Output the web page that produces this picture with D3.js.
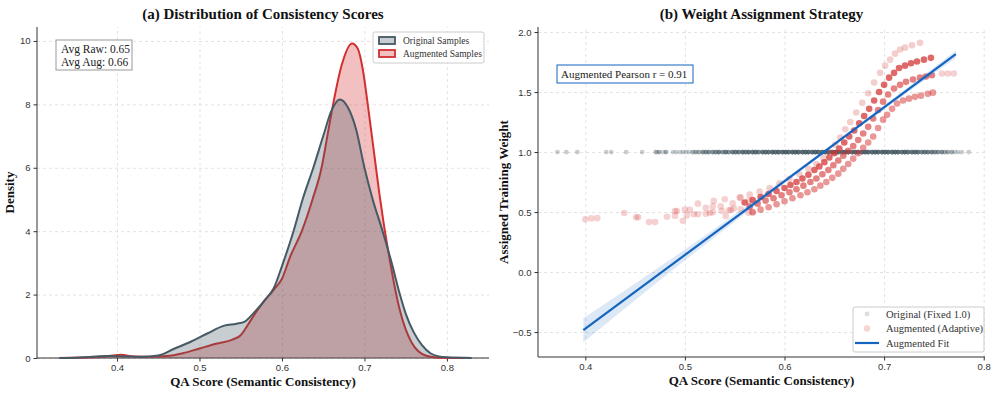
<!DOCTYPE html>
<html>
<head>
<meta charset="utf-8">
<script src="https://cdn.jsdelivr.net/npm/d3@7"></script>
<style>
  body { margin: 0; background: #fff; }
  svg { font-family: "Liberation Serif", "Times New Roman", serif; }
  .grid line { stroke: #dcdcdc; stroke-dasharray: 3,3; stroke-width: 0.8; }
  .grid .domain { display: none; }
  .axis text { font-size: 9.5px; fill: #333; }
  .axis line, .axis path { stroke: #333; }
</style>
</head>
<body>
<div id="chart"></div>
<script>
// ---- panel (a): density curves, [score, density]
const kdeOriginal = [
  [0.33, 0], [0.35, 0.01], [0.37, 0.04], [0.39, 0.06], [0.41, 0.05], [0.43, 0.04],
  [0.45, 0.08], [0.47, 0.3], [0.49, 0.52], [0.51, 0.78], [0.53, 1.02], [0.545, 1.08],
  [0.555, 1.15], [0.565, 1.4], [0.58, 1.85], [0.59, 2.2], [0.60, 2.9], [0.614, 4.0],
  [0.625, 5.0], [0.638, 6.0], [0.65, 7.0], [0.66, 7.8], [0.67, 8.15], [0.68, 7.9],
  [0.69, 7.2], [0.70, 6.0], [0.71, 5.0], [0.722, 4.0], [0.733, 3.0], [0.743, 2.0],
  [0.75, 1.4], [0.76, 0.8], [0.77, 0.4], [0.78, 0.15], [0.79, 0.05], [0.80, 0.02], [0.83, 0]
];
const kdeAugmented = [
  [0.33, 0], [0.37, 0.02], [0.39, 0.06], [0.405, 0.1], [0.42, 0.05], [0.44, 0.04],
  [0.46, 0.06], [0.48, 0.15], [0.50, 0.3], [0.52, 0.45], [0.54, 0.58], [0.55, 0.72],
  [0.56, 1.1], [0.57, 1.5], [0.58, 1.85], [0.59, 2.15], [0.60, 2.5], [0.61, 3.2],
  [0.624, 4.0], [0.637, 5.0], [0.648, 6.0], [0.655, 7.0], [0.662, 8.0], [0.672, 9.2],
  [0.685, 9.92], [0.692, 9.75], [0.698, 9.1], [0.703, 8.2], [0.708, 7.2], [0.713, 6.2],
  [0.718, 5.2], [0.723, 4.3], [0.730, 3.2], [0.737, 2.2], [0.744, 1.4], [0.750, 0.9],
  [0.757, 0.5], [0.765, 0.22], [0.775, 0.07], [0.79, 0.01], [0.82, 0]
];
const avgRaw = 0.65;
const avgAug = 0.66;

// ---- panel (b): original samples, all weight 1.0 -> [score, how many overlap]
const originalScores = [
  [0.372, 1], [0.381, 1], [0.392, 1], [0.421, 1], [0.426, 1], [0.441, 1], [0.457, 1],
  [0.471, 2], [0.474, 2], [0.478, 1], [0.481, 2], [0.488, 1], [0.491, 1], [0.495, 1],
  [0.498, 1], [0.501, 1], [0.504, 1], [0.508, 2], [0.511, 2], [0.514, 2], [0.518, 3],
  [0.521, 3], [0.524, 3], [0.528, 3], [0.531, 3], [0.534, 4], [0.538, 3], [0.541, 4],
  [0.544, 3], [0.548, 4], [0.551, 4], [0.554, 4], [0.558, 5], [0.561, 4], [0.564, 5],
  [0.568, 5], [0.571, 5], [0.574, 4], [0.578, 5], [0.581, 5], [0.584, 5], [0.588, 6],
  [0.591, 5], [0.594, 6], [0.598, 6], [0.601, 6], [0.604, 6], [0.608, 6], [0.611, 6],
  [0.614, 6], [0.618, 6], [0.621, 6], [0.624, 6], [0.628, 6], [0.631, 6], [0.634, 6],
  [0.638, 6], [0.641, 6], [0.644, 6], [0.648, 6], [0.651, 6], [0.654, 6], [0.658, 6],
  [0.661, 6], [0.664, 6], [0.668, 6], [0.671, 6], [0.674, 6], [0.678, 6], [0.681, 6],
  [0.684, 6], [0.688, 6], [0.691, 6], [0.694, 6], [0.698, 6], [0.701, 6], [0.704, 6],
  [0.708, 6], [0.711, 6], [0.714, 6], [0.718, 5], [0.721, 6], [0.724, 5], [0.728, 5],
  [0.731, 5], [0.734, 5], [0.738, 4], [0.741, 4], [0.744, 4], [0.748, 4], [0.751, 3],
  [0.754, 3], [0.758, 3], [0.761, 2], [0.764, 2], [0.768, 2], [0.771, 1], [0.774, 1],
  [0.778, 1], [0.785, 1]
];
const originalWeight = 1.0;

// augmented samples, [score, weight], grouped by the visible bands
const augBandA = [
  [0.555, 0.62], [0.565, 0.645], [0.575, 0.67], [0.585, 0.70], [0.595, 0.74], [0.605, 0.775],
  [0.615, 0.815], [0.624, 0.86], [0.632, 0.90], [0.639, 0.95], [0.645, 1.00], [0.651, 1.06],
  [0.656, 1.12], [0.661, 1.19], [0.666, 1.25], [0.672, 1.33], [0.678, 1.41], [0.684, 1.49],
  [0.690, 1.58], [0.696, 1.66], [0.701, 1.72], [0.706, 1.77], [0.711, 1.82], [0.716, 1.855],
  [0.721, 1.87], [0.728, 1.89], [0.736, 1.91]
];
const augBandB = [
  [0.560, 0.58], [0.568, 0.60], [0.576, 0.625], [0.584, 0.65], [0.592, 0.675], [0.600, 0.70],
  [0.606, 0.725], [0.612, 0.75], [0.618, 0.78], [0.624, 0.81], [0.630, 0.85], [0.635, 0.88],
  [0.640, 0.915], [0.645, 0.955], [0.650, 0.99], [0.655, 1.03], [0.660, 1.08], [0.665, 1.13],
  [0.670, 1.18], [0.675, 1.24], [0.680, 1.30], [0.685, 1.36], [0.690, 1.43], [0.695, 1.50],
  [0.700, 1.56], [0.705, 1.62], [0.710, 1.66], [0.715, 1.70], [0.721, 1.72], [0.727, 1.74],
  [0.733, 1.755], [0.740, 1.77], [0.747, 1.785]
];
const augBandC = [
  [0.565, 0.545], [0.573, 0.57], [0.581, 0.595], [0.589, 0.615], [0.597, 0.64], [0.605, 0.665],
  [0.612, 0.69], [0.619, 0.72], [0.626, 0.75], [0.632, 0.78], [0.638, 0.815], [0.644, 0.85],
  [0.649, 0.89], [0.654, 0.93], [0.659, 0.97], [0.664, 1.01], [0.669, 1.05], [0.674, 1.10],
  [0.679, 1.155], [0.684, 1.21], [0.689, 1.28], [0.694, 1.35], [0.699, 1.42], [0.704, 1.48],
  [0.710, 1.53], [0.716, 1.56], [0.722, 1.585], [0.729, 1.605], [0.736, 1.62], [0.742, 1.63],
  [0.748, 1.64]
];
const augBandD = [
  [0.568, 0.50], [0.576, 0.52], [0.584, 0.54], [0.592, 0.565], [0.600, 0.59], [0.608, 0.615],
  [0.616, 0.64], [0.623, 0.665], [0.630, 0.69], [0.636, 0.72], [0.642, 0.75], [0.648, 0.785],
  [0.654, 0.82], [0.659, 0.86], [0.664, 0.90], [0.669, 0.945], [0.674, 0.99], [0.679, 1.035],
  [0.684, 1.08], [0.689, 1.13], [0.694, 1.20], [0.699, 1.27], [0.703, 1.31], [0.708, 1.36],
  [0.713, 1.405], [0.719, 1.43], [0.725, 1.445], [0.731, 1.46], [0.737, 1.47], [0.744, 1.485],
  [0.749, 1.495]
];
const augScattered = [
  [0.400, 0.439], [0.406, 0.447], [0.412, 0.449], [0.439, 0.492], [0.451, 0.456], [0.453, 0.456],
  [0.464, 0.416], [0.470, 0.416], [0.482, 0.461], [0.490, 0.509], [0.492, 0.509], [0.490, 0.468],
  [0.498, 0.427], [0.500, 0.520], [0.502, 0.472], [0.505, 0.519], [0.509, 0.482], [0.513, 0.482],
  [0.513, 0.570], [0.521, 0.536], [0.521, 0.486], [0.525, 0.492], [0.528, 0.498], [0.528, 0.547],
  [0.529, 0.593], [0.536, 0.548], [0.537, 0.511], [0.540, 0.606], [0.541, 0.467], [0.544, 0.515],
  [0.546, 0.517], [0.548, 0.572], [0.549, 0.530], [0.556, 0.522], [0.556, 0.622], [0.564, 0.494],
  [0.564, 0.594], [0.568, 0.494], [0.758, 1.655], [0.764, 1.655], [0.770, 1.655]
];

// regression fit of augmented weights and its confidence band half-width
const fitLine = [[0.398, -0.485], [0.772, 1.815]];
const fitBand = [
  [0.398, 0.10], [0.45, 0.07], [0.50, 0.045], [0.55, 0.03], [0.60, 0.018],
  [0.65, 0.014], [0.70, 0.018], [0.772, 0.032]
];
const pearsonR = 0.91;

const xTicks = [0.4, 0.5, 0.6, 0.7, 0.8];
const densityTicks = [0, 2, 4, 6, 8, 10];
const weightTicks = [-0.5, 0, 0.5, 1.0, 1.5, 2.0];

const colGray = "#455a64";
const colRed = "#d32f2f";
const colBlue = "#1565c0";

const svg = d3.select("#chart").append("svg").attr("width", 996).attr("height", 395);

function drawAxes(g, x, y, w, h, yTicks, yFmt) {
  g.append("g").attr("class", "grid")
    .attr("transform", `translate(0,${h})`)
    .call(d3.axisBottom(x).tickValues(xTicks).tickSize(-h).tickFormat(""));
  g.append("g").attr("class", "grid")
    .call(d3.axisLeft(y).tickValues(yTicks).tickSize(-w).tickFormat(""));

  g.append("g").attr("class", "axis")
    .attr("transform", `translate(0,${h})`)
    .call(d3.axisBottom(x).tickValues(xTicks).tickSize(3.5).tickPadding(3).tickFormat(d3.format(".1f")))
    .call(a => a.select(".domain").attr("d", `M0,0H${w}`));
  g.append("g").attr("class", "axis")
    .call(d3.axisLeft(y).tickValues(yTicks).tickSize(3.5).tickPadding(3).tickFormat(yFmt))
    .call(a => a.select(".domain").attr("d", `M0,${h}V0`));
}

function title(text, cx) {
  svg.append("text").attr("x", cx).attr("y", 19).attr("text-anchor", "middle")
    .attr("font-size", 15).attr("font-weight", "bold").attr("fill", "#111").text(text);
}
function axisLabels(g, w, h, xl, yl, yx) {
  g.append("text").attr("x", w / 2).attr("y", h + 28).attr("text-anchor", "middle")
    .attr("font-size", 13).attr("font-weight", "bold").attr("fill", "#111").text(xl);
  g.append("text").attr("transform", `translate(${yx},${h / 2}) rotate(-90)`)
    .attr("text-anchor", "middle").attr("font-size", 13).attr("font-weight", "bold")
    .attr("fill", "#111").text(yl);
}

// ---------------- panel (a)
{
  const m = { left: 37, top: 27 }, w = 452, h = 331;
  const g = svg.append("g").attr("transform", `translate(${m.left},${m.top})`);
  const x = d3.scaleLinear().domain([0.303, 0.851]).range([0, w]);
  const y = d3.scaleLinear().domain([0, 10.44]).range([h, 0]);

  drawAxes(g, x, y, w, h, densityTicks, d3.format("d"));

  const area = d3.area().x(d => x(d[0])).y0(y(0)).y1(d => y(d[1])).curve(d3.curveMonotoneX);
  const line = d3.line().x(d => x(d[0])).y(d => y(d[1])).curve(d3.curveMonotoneX);

  // augmented drawn first, original on top
  [[kdeAugmented, colRed], [kdeOriginal, colGray]].forEach(([data, c]) => {
    g.append("path").datum(data).attr("d", area).attr("fill", c).attr("fill-opacity", 0.3);
    g.append("path").datum(data).attr("d", line).attr("fill", "none")
      .attr("stroke", c).attr("stroke-width", 2);
  });

  // stats box
  const box = g.append("g").attr("transform", "translate(19,13)");
  box.append("rect").attr("width", 76).attr("height", 30).attr("fill", "#fff")
    .attr("stroke", "#999").attr("stroke-width", 1);
  box.append("text").attr("x", 5).attr("y", 12.5).attr("font-size", 11.5).attr("fill", "#222")
    .text(`Avg Raw: ${avgRaw.toFixed(2)}`);
  box.append("text").attr("x", 5).attr("y", 25.5).attr("font-size", 11.5).attr("fill", "#222")
    .text(`Avg Aug: ${avgAug.toFixed(2)}`);

  // legend
  const lg = g.append("g").attr("transform", "translate(336,5)");
  lg.append("rect").attr("width", 111).attr("height", 31).attr("rx", 2).attr("fill", "#fff")
    .attr("fill-opacity", 0.85).attr("stroke", "#ccc");
  [["Original Samples", colGray], ["Augmented Samples", colRed]].forEach(([t, c], i) => {
    const row = lg.append("g").attr("transform", `translate(6,${5 + i * 13})`);
    row.append("rect").attr("width", 16).attr("height", 7).attr("fill", c)
      .attr("fill-opacity", 0.3).attr("stroke", c).attr("stroke-width", 1.8);
    row.append("text").attr("x", 24).attr("y", 7).attr("font-size", 9.5).attr("fill", "#333").text(t);
  });

  title("(a) Distribution of Consistency Scores", m.left + w / 2);
  axisLabels(g, w, h, "QA Score (Semantic Consistency)", "Density", -23);
}

// ---------------- panel (b)
{
  const m = { left: 538, top: 27 }, w = 447, h = 330;
  const g = svg.append("g").attr("transform", `translate(${m.left},${m.top})`);
  const x = d3.scaleLinear().domain([0.3525, 0.8013]).range([0, w]);
  const y = d3.scaleLinear().domain([-0.708, 2.042]).range([h, 0]);

  drawAxes(g, x, y, w, h, weightTicks, d3.format(".1f"));

  // original points: each score drawn as many times as samples overlap
  const origFlat = originalScores.flatMap(([s, n]) => d3.range(n).map(() => s));
  g.append("g").selectAll("circle").data(origFlat).join("circle")
    .attr("cx", d => x(d)).attr("cy", y(originalWeight)).attr("r", 2.4)
    .attr("fill", colGray).attr("fill-opacity", 0.3);

  const bands = [
    [augScattered, 0.22], [augBandA, 0.24], [augBandD, 0.5], [augBandC, 0.6], [augBandB, 0.72]
  ];
  bands.forEach(([data, op]) => {
    g.append("g").selectAll("circle").data(data).join("circle")
      .attr("cx", d => x(d[0])).attr("cy", d => y(d[1])).attr("r", 3.3)
      .attr("fill", colRed).attr("fill-opacity", op);
  });

  // confidence band + fit line
  const slope = (fitLine[1][1] - fitLine[0][1]) / (fitLine[1][0] - fitLine[0][0]);
  const fitAt = s => fitLine[0][1] + slope * (s - fitLine[0][0]);
  g.append("path").datum(fitBand)
    .attr("d", d3.area().x(d => x(d[0])).y0(d => y(fitAt(d[0]) - d[1])).y1(d => y(fitAt(d[0]) + d[1]))
      .curve(d3.curveMonotoneX))
    .attr("fill", colBlue).attr("fill-opacity", 0.15);
  g.append("path").datum(fitLine)
    .attr("d", d3.line().x(d => x(d[0])).y(d => y(d[1])))
    .attr("stroke", colBlue).attr("stroke-width", 2.2).attr("fill", "none");

  // pearson box
  const pb = g.append("g").attr("transform", "translate(19,38)");
  pb.append("rect").attr("width", 136).attr("height", 18).attr("fill", "#fff")
    .attr("stroke", colBlue).attr("stroke-width", 1);
  pb.append("text").attr("x", 4).attr("y", 13).attr("font-size", 11).attr("fill", "#222")
    .text(`Augmented Pearson r = ${pearsonR.toFixed(2)}`);

  // legend
  const lg = g.append("g").attr("transform", "translate(315,280)");
  lg.append("rect").attr("width", 131).attr("height", 45).attr("rx", 2).attr("fill", "#fff")
    .attr("fill-opacity", 0.85).attr("stroke", "#ccc");
  const items = [
    ["Original (Fixed 1.0)", "dot", colGray, 0.2],
    ["Augmented (Adaptive)", "dot", colRed, 0.2],
    ["Augmented Fit", "line", colBlue, 1]
  ];
  items.forEach(([t, kind, c, op], i) => {
    const row = g.append("g").attr("transform", `translate(315,${287 + i * 14.5})`);
    if (kind === "dot") {
      row.append("circle").attr("cx", 14).attr("cy", 0).attr("r", i === 0 ? 2.4 : 3.2)
        .attr("fill", c).attr("fill-opacity", op);
    } else {
      row.append("line").attr("x1", 2).attr("x2", 26).attr("y1", 0).attr("y2", 0)
        .attr("stroke", c).attr("stroke-width", 2.2);
    }
    row.append("text").attr("x", 33).attr("y", 3.5).attr("font-size", 10.5).attr("fill", "#333").text(t);
  });

  title("(b) Weight Assignment Strategy", m.left + w / 2);
  axisLabels(g, w, h, "QA Score (Semantic Consistency)", "Assigned Training Weight", -30);
}
</script>
</body>
</html>
